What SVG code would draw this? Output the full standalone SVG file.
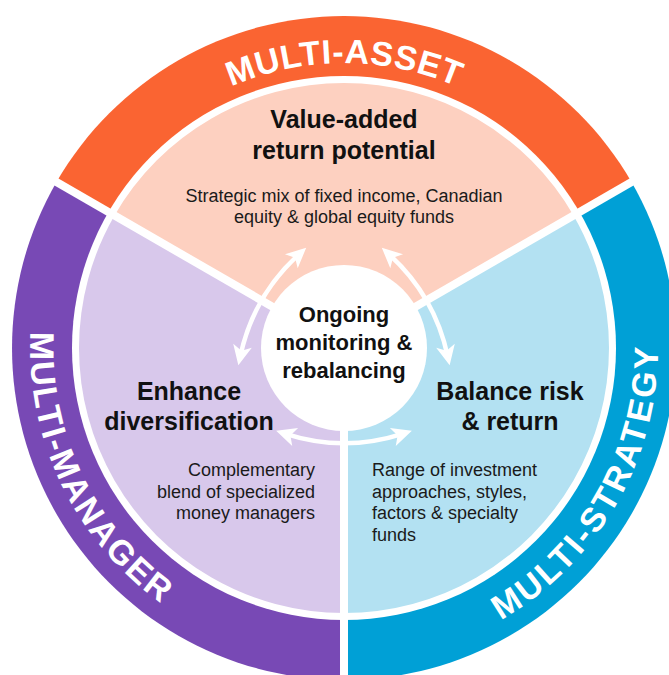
<svg xmlns="http://www.w3.org/2000/svg" width="669" height="675" viewBox="0 0 669 675">
<defs>
<style>
.band-label{font-family:'Liberation Sans',Arial,sans-serif;font-weight:700;font-size:34px;fill:#ffffff}
.title{font-family:'Liberation Sans',Arial,sans-serif;font-weight:700;font-size:25px;fill:#111111}
.center{font-family:'Liberation Sans',Arial,sans-serif;font-weight:700;font-size:22px;fill:#111111}
.desc{font-family:'Liberation Sans',Arial,sans-serif;font-size:18px;fill:#1a1a1a}
.sep{stroke:#ffffff;stroke-width:8;fill:none}
.arrow{stroke:#ffffff;stroke-width:4.5;fill:none;marker-start:url(#ah);marker-end:url(#ah)}
</style>
<marker id="ah" viewBox="0 0 24 22" refX="13" refY="11" markerWidth="24" markerHeight="22" markerUnits="userSpaceOnUse" orient="auto-start-reverse">
<path d="M22 11 L2 1.5 L7 11 L2 20.5 Z" fill="#ffffff"/>
</marker>
<path id="arcTop" d="M60.1 323.2 A285 285 0 0 1 627.9 323.2"/>
<path id="arcLeft" d="M183.7 78 A314 314 0 0 0 455 641.7"/>
<path id="arcRight" d="M211.3 632.6 A314 314 0 0 0 524.1 90.8"/>
</defs>

<g id="node-multi-asset">
<path d="M344 348 L56.5 182 A332 332 0 0 1 631.5 182 Z" fill="#FA6432"/>
</g>
<g id="node-multi-manager">
<path d="M344 348 L344 680 A332 332 0 0 1 56.5 182 Z" fill="#7849B5"/>
</g>
<g id="node-multi-strategy">
<path d="M344 348 L631.5 182 A332 332 0 0 1 344 680 Z" fill="#00A0D6"/>
</g>
<circle cx="344" cy="348" r="272" fill="#ffffff"/>

<g id="node-value-added">
<path d="M344 348 L114.5 215.5 A265 265 0 0 1 573.5 215.5 Z" fill="#FDD0C0"/>
</g>
<g id="node-enhance-diversification">
<path d="M344 348 L344 613 A265 265 0 0 1 114.5 215.5 Z" fill="#D8C8EB"/>
</g>
<g id="node-balance-risk">
<path d="M344 348 L573.5 215.5 A265 265 0 0 1 344 613 Z" fill="#B3E1F2"/>
</g>

<g id="separators">
<line class="sep" x1="344" y1="348" x2="45.2" y2="175.5"/>
<line class="sep" x1="344" y1="348" x2="642.8" y2="175.5"/>
<line class="sep" x1="344" y1="348" x2="344" y2="693"/>
</g>

<g id="band-labels">
<text class="band-label"><textPath href="#arcTop" startOffset="50%" text-anchor="middle" textLength="232" lengthAdjust="spacing">MULTI-ASSET</textPath></text>
<text class="band-label"><textPath href="#arcLeft" startOffset="50%" text-anchor="middle" textLength="314" lengthAdjust="spacing">MULTI-MANAGER</textPath></text>
<text class="band-label"><textPath href="#arcRight" startOffset="50%" text-anchor="middle" textLength="330" lengthAdjust="spacing">MULTI-STRATEGY</textPath></text>
</g>

<g id="text-value-added">
<text class="title" x="344" y="128" text-anchor="middle">Value-added</text>
<text class="title" x="344" y="159" text-anchor="middle">return potential</text>
<text class="desc" x="344" y="201.5" text-anchor="middle">Strategic mix of fixed income, Canadian</text>
<text class="desc" x="344" y="222.5" text-anchor="middle">equity &amp; global equity funds</text>
</g>

<g id="text-enhance">
<text class="title" x="189" y="400" text-anchor="middle">Enhance</text>
<text class="title" x="189" y="430" text-anchor="middle">diversification</text>
<text class="desc" x="315" y="476" text-anchor="end">Complementary</text>
<text class="desc" x="315" y="497.5" text-anchor="end">blend of specialized</text>
<text class="desc" x="315" y="519" text-anchor="end">money managers</text>
</g>

<g id="text-balance">
<text class="title" x="510" y="400" text-anchor="middle">Balance risk</text>
<text class="title" x="510" y="430" text-anchor="middle">&amp; return</text>
<text class="desc" x="372" y="476">Range of investment</text>
<text class="desc" x="372" y="497.5">approaches, styles,</text>
<text class="desc" x="372" y="519">factors &amp; specialty</text>
<text class="desc" x="372" y="540.5">funds</text>
</g>

<g id="connectors">
<path id="arrowBottom" class="arrow" d="M284.7 433.6 A192 192 0 0 0 403.3 433.6"/>
<path class="arrow" d="M284.7 433.6 A192 192 0 0 0 403.3 433.6" transform="rotate(120 344 348)"/>
<path class="arrow" d="M284.7 433.6 A192 192 0 0 0 403.3 433.6" transform="rotate(240 344 348)"/>
</g>

<g id="node-center">
<circle cx="344" cy="348" r="83" fill="#ffffff"/>
<text class="center" x="344" y="322" text-anchor="middle">Ongoing</text>
<text class="center" x="344" y="350" text-anchor="middle">monitoring &amp;</text>
<text class="center" x="344" y="378" text-anchor="middle">rebalancing</text>
</g>
</svg>
